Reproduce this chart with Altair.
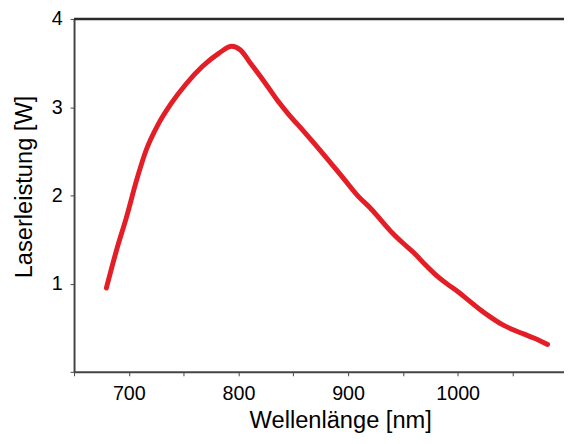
import altair as alt
import pandas as pd

wavelength = [679.5, 689, 698, 707, 716, 726.5, 738.5, 752, 767, 782, 794, 801.5, 812, 824, 836, 845,
              860, 878, 896, 910, 920, 930, 940, 950, 960, 970, 980, 990, 1000, 1010, 1020, 1030,
              1040, 1050, 1060, 1070, 1082]
power = [0.95, 1.39, 1.76, 2.17, 2.52, 2.80, 3.04, 3.26, 3.46, 3.61, 3.69, 3.65, 3.48, 3.28, 3.07, 2.93,
         2.72, 2.46, 2.19, 1.98, 1.86, 1.72, 1.58, 1.46, 1.35, 1.22, 1.10, 1.00, 0.91, 0.81, 0.71, 0.62,
         0.54, 0.48, 0.43, 0.38, 0.31]

x_ticks = [650, 700, 750, 800, 850, 900, 950, 1000, 1050]
y_ticks = [0, 0.5, 1, 1.5, 2, 2.5, 3, 3.5, 4]
top_value = [4]

df = pd.DataFrame({"wl": wavelength, "p": power})
top_df = pd.DataFrame({"y": top_value})

x_scale = alt.Scale(domain=[650, 1097], nice=False, zero=False)
y_scale = alt.Scale(domain=[0, 4], nice=False)

line = alt.Chart(df).mark_line(color="#e31e26", strokeWidth=5, strokeCap="round",
                               interpolate="monotone").encode(
    x=alt.X("wl:Q", scale=x_scale,
            axis=alt.Axis(title="Wellenlänge [nm]", values=x_ticks, format="d",
                          labelExpr="datum.value % 100 == 0 ? datum.label : ''",
                          titleX=270, titleY=56, titleBaseline="alphabetic",
                          titleAlign="center")),
    y=alt.Y("p:Q", scale=y_scale,
            axis=alt.Axis(title="Laserleistung [W]", values=y_ticks, format="d",
                          labelExpr="datum.value >= 1 && datum.value % 1 == 0 ? datum.label : ''",
                          titleX=-43, titleY=170, titleBaseline="alphabetic",
                          titleAlign="center", titleAngle=270)),
)

top = alt.Chart(top_df).mark_rule(color="#2a2a2a", strokeWidth=2.5).encode(
    y=alt.Y("y:Q", scale=y_scale)
)

chart = alt.layer(top, line).properties(
    width=497, height=358,
    autosize=alt.AutoSizeParams(type="none"),
    padding={"left": 67, "top": 8, "right": 0, "bottom": 62},
).configure_view(stroke=None).configure_axis(
    grid=False,
    domainColor="#444444", domainWidth=2,
    tickColor="#444444", tickWidth=1, tickSize=4,
    labelFont="Liberation Sans", labelFontSize=20, labelColor="black", labelPadding=8,
    titleFont="Liberation Sans", titleFontSize=24, titleColor="black", titleFontWeight="normal",
)

chart.save("out.html", embed_options={"renderer": "svg", "actions": False})
